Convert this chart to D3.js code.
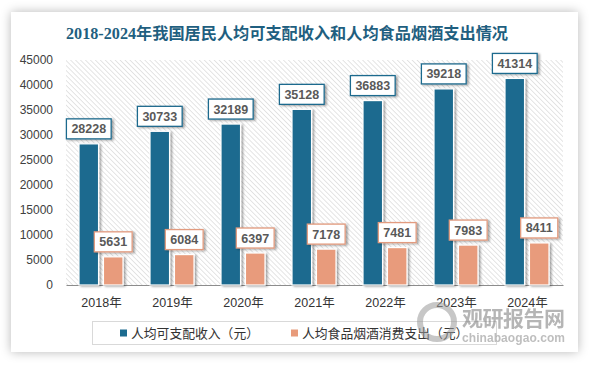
<!DOCTYPE html>
<html>
<head>
<meta charset="utf-8">
<script src="https://cdn.jsdelivr.net/npm/d3@7/dist/d3.min.js"></script>
<style>
  html, body { margin: 0; padding: 0; background: #fff; }
  #chart { width: 594px; height: 366px; position: relative; }
  .card { position: absolute; left: 11px; top: 12px; width: 567px; height: 340px; background: #fff;
          box-shadow: 0 0 10px rgba(0,0,0,0.28); }
  svg { position: absolute; left: 0; top: 0; }
</style>
</head>
<body>
<div id="chart"><div class="card"></div></div>
<script>
// 数据
const years = ["2018年", "2019年", "2020年", "2021年", "2022年", "2023年", "2024年"];
const incomeValues = [28228, 30733, 32189, 35128, 36883, 39218, 41314];
const foodValues = [5631, 6084, 6397, 7178, 7481, 7983, 8411];
const seriesNames = ["人均可支配收入（元）", "人均食品烟酒消费支出（元）"];
const yTicks = [0, 5000, 10000, 15000, 20000, 25000, 30000, 35000, 40000, 45000];

const W = 594, H = 366;
const plot = { left: 66, right: 563, top: 60, bottom: 285 };
const colors = ["#1c6b8f", "#e89b7b"];
const numFont = "'Liberation Sans', Arial, sans-serif";
const cjkFont = "'Liberation Sans', 'Noto Sans CJK SC', sans-serif";

const svg = d3.select("#chart").append("svg")
  .attr("width", W).attr("height", H);

const defs = svg.append("defs");
// 斜线底纹
const pat = defs.append("pattern")
  .attr("id", "hatch").attr("patternUnits", "userSpaceOnUse")
  .attr("width", 3.5).attr("height", 3.5)
  .attr("patternTransform", "rotate(-45)");
pat.append("rect").attr("width", 3.5).attr("height", 3.5).attr("fill", "#fff");
pat.append("line").attr("x1", 0).attr("y1", 0).attr("x2", 0).attr("y2", 3.5)
  .attr("stroke", "#cfcfcf").attr("stroke-width", 1.1);

const shadow = defs.append("filter").attr("id", "shadow")
  .attr("x", "-30%").attr("y", "-30%").attr("width", "160%").attr("height", "160%");
shadow.append("feDropShadow").attr("dx", 2).attr("dy", 1).attr("stdDeviation", 1.3)
  .attr("flood-color", "#000").attr("flood-opacity", 0.35);

// 标题
svg.append("text")
  .attr("x", 287).attr("y", 39)
  .attr("text-anchor", "middle")
  .attr("font-family", "'Liberation Serif', 'Noto Sans CJK SC', serif")
  .attr("font-weight", "bold").attr("font-size", 16)
  .attr("fill", "#1f5f80")
  .attr("textLength", 442).attr("lengthAdjust", "spacingAndGlyphs")
  .text("2018-2024年我国居民人均可支配收入和人均食品烟酒支出情况");

// 比例尺
const x0 = d3.scaleBand().domain(years).range([plot.left, plot.right]);
const x1 = d3.scaleBand().domain(seriesNames).range([13, 57]).paddingInner(0.2);
const y = d3.scaleLinear().domain([0, 45000]).range([plot.bottom, plot.top]);

// 绘图区底纹
svg.append("rect")
  .attr("x", plot.left).attr("y", plot.top)
  .attr("width", plot.right - plot.left).attr("height", plot.bottom - plot.top)
  .attr("fill", "url(#hatch)");

// y 轴
const yAxis = svg.append("g")
  .attr("transform", `translate(${plot.left},0)`)
  .call(d3.axisLeft(y).tickValues(yTicks).tickSize(0).tickPadding(13).tickFormat(d3.format("d")));
yAxis.select(".domain").remove();
yAxis.selectAll("text").attr("font-family", numFont).attr("font-size", 12).attr("fill", "#404040");

// x 轴
const xAxis = svg.append("g")
  .attr("transform", `translate(0,${plot.bottom})`)
  .call(d3.axisBottom(x0).tickSize(0).tickPadding(13));
xAxis.select(".domain").attr("stroke", "#8c8c8c").attr("stroke-width", 1.2);
xAxis.selectAll("text").attr("font-family", cjkFont).attr("font-size", 12.5).attr("fill", "#333");

// 柱子
const rows = years.map((yr, i) => ({ year: yr, values: [incomeValues[i], foodValues[i]] }));
const groups = svg.append("g").selectAll("g").data(rows).join("g")
  .attr("transform", d => `translate(${x0(d.year)},0)`);

groups.selectAll("rect").data(d => d.values.map((v, k) => ({ v, k })))
  .join("rect")
  .attr("x", d => x1(seriesNames[d.k]))
  .attr("width", x1.bandwidth())
  .attr("y", d => y(d.v))
  .attr("height", d => y(0) - y(d.v))
  .attr("fill", d => colors[d.k])
  .attr("stroke", "#fff").attr("stroke-width", 1.2)
  .attr("filter", "url(#shadow)");

// 数据标签
const labels = groups.selectAll("g.lbl").data(d => d.values.map((v, k) => ({ v, k })))
  .join("g").attr("class", "lbl")
  .attr("transform", d => `translate(${x1(seriesNames[d.k]) + x1.bandwidth() / 2},${y(d.v) - 15})`);
labels.append("rect")
  .attr("fill", "#fff")
  .attr("stroke", d => d.k === 0 ? "#1f6b8e" : "#e29b7f")
  .attr("stroke-width", 1.3)
  .attr("filter", "url(#shadow)");
labels.append("text")
  .attr("text-anchor", "middle").attr("dy", "0.36em")
  .attr("font-family", numFont).attr("font-weight", "bold").attr("font-size", 12.5)
  .attr("fill", "#595959")
  .text(d => d.v);
labels.each(function () {
  const g = d3.select(this);
  const w = g.select("text").node().getComputedTextLength() + 10;
  g.select("rect").attr("x", -w / 2).attr("y", -10).attr("width", w).attr("height", 20);
});

// 图例
svg.append("rect")
  .attr("x", 92.5).attr("y", 321.5).attr("width", 404).attr("height", 23)
  .attr("fill", "#fff").attr("stroke", "#d9d9d9");
const legendX = [120, 291];
const leg = svg.append("g").selectAll("g").data(seriesNames).join("g")
  .attr("transform", (d, i) => `translate(${legendX[i]},333)`);
leg.append("rect").attr("x", 0).attr("y", -3.5).attr("width", 7).attr("height", 7)
  .attr("fill", (d, i) => colors[i]);
leg.append("text").attr("x", 11).attr("dy", "0.36em")
  .attr("font-family", "'Noto Sans CJK SC', sans-serif").attr("font-size", 12.8)
  .attr("fill", "#333")
  .text(d => d);

// 水印
const wm = svg.append("g").attr("opacity", 0.55);
wm.append("circle").attr("cx", 437).attr("cy", 322).attr("r", 17)
  .attr("fill", "none").attr("stroke", "#9a9a9a").attr("stroke-width", 6);
wm.append("text").attr("x", 462).attr("y", 326)
  .attr("font-family", "'Noto Sans CJK SC', sans-serif").attr("font-weight", "bold")
  .attr("font-size", 21).attr("fill", "#7a7a7a").attr("textLength", 103)
  .text("观研报告网");
wm.append("text").attr("x", 462).attr("y", 342)
  .attr("font-family", "'Liberation Sans', Arial, sans-serif").attr("font-weight", "bold")
  .attr("font-size", 12).attr("fill", "#8a8a8a").attr("textLength", 103)
  .text("chinabaogao.com");
</script>
</body>
</html>
